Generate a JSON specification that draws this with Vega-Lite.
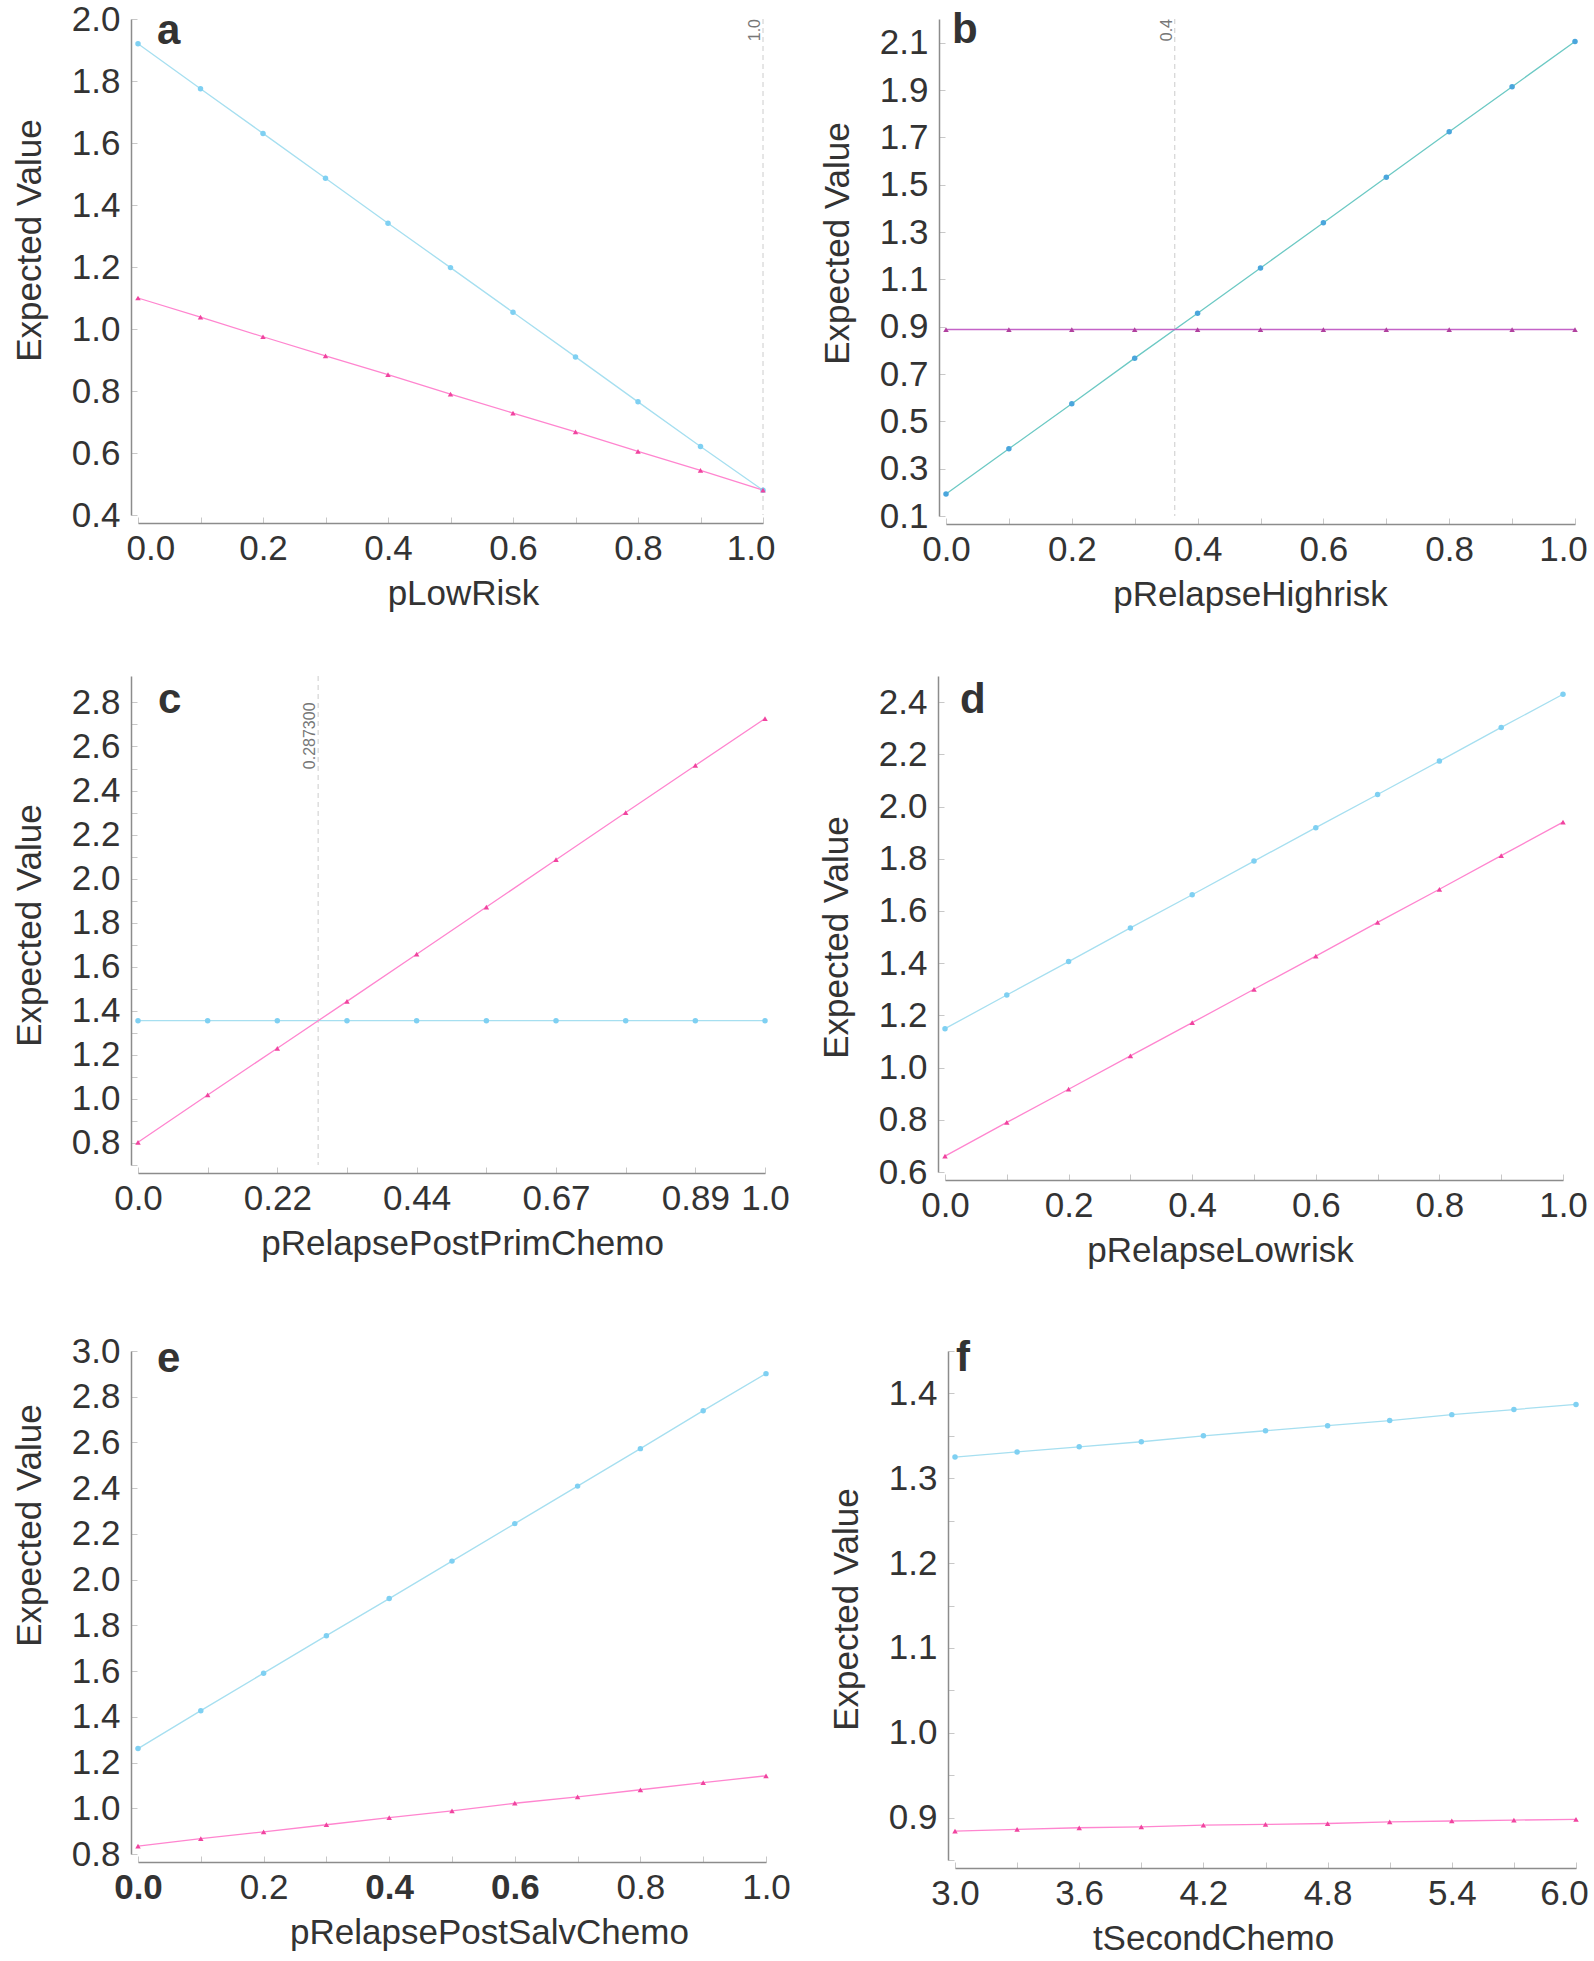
{
  "$schema": "https://vega.github.io/schema/vega-lite/v6.json",
  "background": "white",
  "padding": {"left": 12, "top": 2, "right": 0, "bottom": 0},
  "datasets": {
    "pa": [
      {"x": 0.0, "series": "Strategy 1", "ev": 1.92}, {"x": 0.1, "series": "Strategy 1", "ev": 1.775},
      {"x": 0.2, "series": "Strategy 1", "ev": 1.631}, {"x": 0.3, "series": "Strategy 1", "ev": 1.486},
      {"x": 0.4, "series": "Strategy 1", "ev": 1.341}, {"x": 0.5, "series": "Strategy 1", "ev": 1.198},
      {"x": 0.6, "series": "Strategy 1", "ev": 1.054}, {"x": 0.7, "series": "Strategy 1", "ev": 0.91},
      {"x": 0.8, "series": "Strategy 1", "ev": 0.765}, {"x": 0.9, "series": "Strategy 1", "ev": 0.621},
      {"x": 1.0, "series": "Strategy 1", "ev": 0.48},
      {"x": 0.0, "series": "Strategy 2", "ev": 1.1}, {"x": 0.1, "series": "Strategy 2", "ev": 1.038},
      {"x": 0.2, "series": "Strategy 2", "ev": 0.975}, {"x": 0.3, "series": "Strategy 2", "ev": 0.913},
      {"x": 0.4, "series": "Strategy 2", "ev": 0.853}, {"x": 0.5, "series": "Strategy 2", "ev": 0.79},
      {"x": 0.6, "series": "Strategy 2", "ev": 0.729}, {"x": 0.7, "series": "Strategy 2", "ev": 0.668},
      {"x": 0.8, "series": "Strategy 2", "ev": 0.605}, {"x": 0.9, "series": "Strategy 2", "ev": 0.544},
      {"x": 1.0, "series": "Strategy 2", "ev": 0.48}
    ],
    "pb": [
      {"x": 0.0, "series": "Strategy 1", "ev": 0.193}, {"x": 0.1, "series": "Strategy 1", "ev": 0.384},
      {"x": 0.2, "series": "Strategy 1", "ev": 0.574}, {"x": 0.3, "series": "Strategy 1", "ev": 0.767},
      {"x": 0.4, "series": "Strategy 1", "ev": 0.957}, {"x": 0.5, "series": "Strategy 1", "ev": 1.148},
      {"x": 0.6, "series": "Strategy 1", "ev": 1.339}, {"x": 0.7, "series": "Strategy 1", "ev": 1.531},
      {"x": 0.8, "series": "Strategy 1", "ev": 1.724}, {"x": 0.9, "series": "Strategy 1", "ev": 1.914},
      {"x": 1.0, "series": "Strategy 1", "ev": 2.105},
      {"x": 0.0, "series": "Strategy 2", "ev": 0.888}, {"x": 0.1, "series": "Strategy 2", "ev": 0.888},
      {"x": 0.2, "series": "Strategy 2", "ev": 0.888}, {"x": 0.3, "series": "Strategy 2", "ev": 0.888},
      {"x": 0.4, "series": "Strategy 2", "ev": 0.888}, {"x": 0.5, "series": "Strategy 2", "ev": 0.888},
      {"x": 0.6, "series": "Strategy 2", "ev": 0.888}, {"x": 0.7, "series": "Strategy 2", "ev": 0.888},
      {"x": 0.8, "series": "Strategy 2", "ev": 0.888}, {"x": 0.9, "series": "Strategy 2", "ev": 0.888},
      {"x": 1.0, "series": "Strategy 2", "ev": 0.888}
    ],
    "pc": [
      {"x": 0.0, "series": "Strategy 1", "ev": 1.355}, {"x": 0.1111, "series": "Strategy 1", "ev": 1.355},
      {"x": 0.2222, "series": "Strategy 1", "ev": 1.355}, {"x": 0.3333, "series": "Strategy 1", "ev": 1.355},
      {"x": 0.4444, "series": "Strategy 1", "ev": 1.355}, {"x": 0.5556, "series": "Strategy 1", "ev": 1.355},
      {"x": 0.6667, "series": "Strategy 1", "ev": 1.355}, {"x": 0.7778, "series": "Strategy 1", "ev": 1.355},
      {"x": 0.8889, "series": "Strategy 1", "ev": 1.355}, {"x": 1.0, "series": "Strategy 1", "ev": 1.355},
      {"x": 0.0, "series": "Strategy 2", "ev": 0.803}, {"x": 0.1111, "series": "Strategy 2", "ev": 1.018},
      {"x": 0.2222, "series": "Strategy 2", "ev": 1.23}, {"x": 0.3333, "series": "Strategy 2", "ev": 1.443},
      {"x": 0.4444, "series": "Strategy 2", "ev": 1.657}, {"x": 0.5556, "series": "Strategy 2", "ev": 1.871},
      {"x": 0.6667, "series": "Strategy 2", "ev": 2.086}, {"x": 0.7778, "series": "Strategy 2", "ev": 2.3},
      {"x": 0.8889, "series": "Strategy 2", "ev": 2.514}, {"x": 1.0, "series": "Strategy 2", "ev": 2.727}
    ],
    "pd": [
      {"x": 0.0, "series": "Strategy 1", "ev": 1.149}, {"x": 0.1, "series": "Strategy 1", "ev": 1.278},
      {"x": 0.2, "series": "Strategy 1", "ev": 1.406}, {"x": 0.3, "series": "Strategy 1", "ev": 1.535},
      {"x": 0.4, "series": "Strategy 1", "ev": 1.662}, {"x": 0.5, "series": "Strategy 1", "ev": 1.791},
      {"x": 0.6, "series": "Strategy 1", "ev": 1.919}, {"x": 0.7, "series": "Strategy 1", "ev": 2.046},
      {"x": 0.8, "series": "Strategy 1", "ev": 2.174}, {"x": 0.9, "series": "Strategy 1", "ev": 2.303},
      {"x": 1.0, "series": "Strategy 1", "ev": 2.43},
      {"x": 0.0, "series": "Strategy 2", "ev": 0.661}, {"x": 0.1, "series": "Strategy 2", "ev": 0.79},
      {"x": 0.2, "series": "Strategy 2", "ev": 0.917}, {"x": 0.3, "series": "Strategy 2", "ev": 1.045},
      {"x": 0.4, "series": "Strategy 2", "ev": 1.172}, {"x": 0.5, "series": "Strategy 2", "ev": 1.3},
      {"x": 0.6, "series": "Strategy 2", "ev": 1.427}, {"x": 0.7, "series": "Strategy 2", "ev": 1.556},
      {"x": 0.8, "series": "Strategy 2", "ev": 1.683}, {"x": 0.9, "series": "Strategy 2", "ev": 1.812},
      {"x": 1.0, "series": "Strategy 2", "ev": 1.94}
    ],
    "pe": [
      {"x": 0.0, "series": "Strategy 1", "ev": 1.261}, {"x": 0.1, "series": "Strategy 1", "ev": 1.427},
      {"x": 0.2, "series": "Strategy 1", "ev": 1.591}, {"x": 0.3, "series": "Strategy 1", "ev": 1.755},
      {"x": 0.4, "series": "Strategy 1", "ev": 1.917}, {"x": 0.5, "series": "Strategy 1", "ev": 2.081},
      {"x": 0.6, "series": "Strategy 1", "ev": 2.245}, {"x": 0.7, "series": "Strategy 1", "ev": 2.409},
      {"x": 0.8, "series": "Strategy 1", "ev": 2.573}, {"x": 0.9, "series": "Strategy 1", "ev": 2.739},
      {"x": 1.0, "series": "Strategy 1", "ev": 2.901},
      {"x": 0.0, "series": "Strategy 2", "ev": 0.834}, {"x": 0.1, "series": "Strategy 2", "ev": 0.867},
      {"x": 0.2, "series": "Strategy 2", "ev": 0.897}, {"x": 0.3, "series": "Strategy 2", "ev": 0.928},
      {"x": 0.4, "series": "Strategy 2", "ev": 0.959}, {"x": 0.5, "series": "Strategy 2", "ev": 0.989},
      {"x": 0.6, "series": "Strategy 2", "ev": 1.022}, {"x": 0.7, "series": "Strategy 2", "ev": 1.05},
      {"x": 0.8, "series": "Strategy 2", "ev": 1.081}, {"x": 0.9, "series": "Strategy 2", "ev": 1.112},
      {"x": 1.0, "series": "Strategy 2", "ev": 1.142}
    ],
    "pf": [
      {"x": 3.0, "series": "Strategy 1", "ev": 1.325}, {"x": 3.3, "series": "Strategy 1", "ev": 1.331},
      {"x": 3.6, "series": "Strategy 1", "ev": 1.337}, {"x": 3.9, "series": "Strategy 1", "ev": 1.343},
      {"x": 4.2, "series": "Strategy 1", "ev": 1.35}, {"x": 4.5, "series": "Strategy 1", "ev": 1.356},
      {"x": 4.8, "series": "Strategy 1", "ev": 1.362}, {"x": 5.1, "series": "Strategy 1", "ev": 1.368},
      {"x": 5.4, "series": "Strategy 1", "ev": 1.375}, {"x": 5.7, "series": "Strategy 1", "ev": 1.381},
      {"x": 6.0, "series": "Strategy 1", "ev": 1.387},
      {"x": 3.0, "series": "Strategy 2", "ev": 0.884}, {"x": 3.3, "series": "Strategy 2", "ev": 0.886},
      {"x": 3.6, "series": "Strategy 2", "ev": 0.888}, {"x": 3.9, "series": "Strategy 2", "ev": 0.889},
      {"x": 4.2, "series": "Strategy 2", "ev": 0.891}, {"x": 4.5, "series": "Strategy 2", "ev": 0.892},
      {"x": 4.8, "series": "Strategy 2", "ev": 0.893}, {"x": 5.1, "series": "Strategy 2", "ev": 0.895},
      {"x": 5.4, "series": "Strategy 2", "ev": 0.896}, {"x": 5.7, "series": "Strategy 2", "ev": 0.897},
      {"x": 6.0, "series": "Strategy 2", "ev": 0.898}
    ]
  },
  "vconcat": [
    {
      "hconcat": [
        {
          "width": 625, "height": 496,
          "title": {"text": "a", "anchor": "start", "frame": "group", "baseline": "alphabetic", "offset": -84, "dx": 19},
          "layer": [
            {"data": {"values": [{"x": 1.0, "label": "1.0"}]},
             "mark": {"type": "rule", "strokeDash": [5, 4], "color": "#cccccc", "strokeWidth": 1},
             "encoding": {"x": {"field": "x", "type": "quantitative", "title": "pLowRisk"}}},
            {"data": {"values": [{"x": 1.0, "label": "1.0"}]},
             "mark": {"type": "text", "angle": 270, "align": "right", "baseline": "bottom", "fontSize": 16, "color": "#777777"},
             "encoding": {"x": {"field": "x", "type": "quantitative", "title": "pLowRisk"}, "y": {"datum": 2.0}, "text": {"field": "label"}}},
            {"data": {"name": "pa"}, "mark": {"type": "line", "strokeWidth": 1.3},
             "encoding": {
               "x": {"field": "x", "type": "quantitative", "title": "pLowRisk",
                 "scale": {"domain": [0, 1], "nice": false, "zero": false},
                 "axis": {"values": [0, 0.1, 0.2, 0.3, 0.4, 0.5, 0.6, 0.7, 0.8, 0.9, 1.0],
                   "labelExpr": "round(datum.value*10)%2==0 ? format(datum.value,'.1f') : ''",
                   "labelFlush": true, "labelFlushOffset": 12, "titleX": 325}},
               "y": {"field": "ev", "type": "quantitative", "title": "Expected Value",
                 "scale": {"domain": [0.4, 2.0], "nice": false, "zero": false},
                 "axis": {"values": [0.4, 0.5, 0.6, 0.7, 0.8, 0.9, 1.0, 1.1, 1.2, 1.3, 1.4, 1.5, 1.6, 1.7, 1.8, 1.9, 2.0],
                   "labelExpr": "round(datum.value*10)%2==0 ? format(datum.value,'.1f') : ''", "titleY": 221}},
               "stroke": {"field": "series", "type": "nominal", "legend": null,
                 "scale": {"domain": ["Strategy 1", "Strategy 2"], "range": ["#a6dff0", "#ff85cf"]}}}},
            {"data": {"name": "pa"}, "mark": {"type": "point", "filled": true, "size": 30, "opacity": 1},
             "encoding": {
               "x": {"field": "x", "type": "quantitative", "title": "pLowRisk"},
               "y": {"field": "ev", "type": "quantitative", "title": "Expected Value"},
               "fill": {"field": "series", "type": "nominal", "legend": null,
                 "scale": {"domain": ["Strategy 1", "Strategy 2"], "range": ["#7fd0f2", "#f0449f"]}},
               "shape": {"field": "series", "type": "nominal", "legend": null,
                 "scale": {"domain": ["Strategy 1", "Strategy 2"], "range": ["circle", "triangle-up"]}}}}
          ]
        },
        {
          "width": 629, "height": 497,
          "title": {"text": "b", "anchor": "start", "frame": "group", "baseline": "alphabetic", "offset": -66, "dx": 6},
          "layer": [
            {"data": {"values": [{"x": 0.3637, "label": "0.4"}]},
             "mark": {"type": "rule", "strokeDash": [5, 4], "color": "#cccccc", "strokeWidth": 1},
             "encoding": {"x": {"field": "x", "type": "quantitative", "title": "pRelapseHighrisk"}}},
            {"data": {"values": [{"x": 0.3637, "label": "0.4"}]},
             "mark": {"type": "text", "angle": 270, "align": "right", "baseline": "bottom", "fontSize": 16, "color": "#777777"},
             "encoding": {"x": {"field": "x", "type": "quantitative", "title": "pRelapseHighrisk"}, "y": {"datum": 2.2}, "text": {"field": "label"}}},
            {"data": {"name": "pb"}, "mark": {"type": "line", "strokeWidth": 1.3},
             "encoding": {
               "x": {"field": "x", "type": "quantitative", "title": "pRelapseHighrisk",
                 "scale": {"domain": [0, 1], "nice": false, "zero": false},
                 "axis": {"values": [0, 0.1, 0.2, 0.3, 0.4, 0.5, 0.6, 0.7, 0.8, 0.9, 1.0],
                   "labelExpr": "round(datum.value*10)%2==0 ? format(datum.value,'.1f') : ''",
                   "labelOffset": {"condition": {"test": "datum.value > 0.99", "value": -12}, "value": 0},
                   "titleX": 304}},
               "y": {"field": "ev", "type": "quantitative", "title": "Expected Value",
                 "scale": {"domain": [0.1, 2.2], "nice": false, "zero": false},
                 "axis": {"values": [0.1, 0.2, 0.3, 0.4, 0.5, 0.6, 0.7, 0.8, 0.9, 1.0, 1.1, 1.2, 1.3, 1.4, 1.5, 1.6, 1.7, 1.8, 1.9, 2.0, 2.1, 2.2],
                   "labelExpr": "round(datum.value*10)%2==1 ? format(datum.value,'.1f') : ''", "titleY": 224}},
               "stroke": {"field": "series", "type": "nominal", "legend": null,
                 "scale": {"domain": ["Strategy 1", "Strategy 2"], "range": ["#6cc9c4", "#c463c8"]}}}},
            {"data": {"name": "pb"}, "mark": {"type": "point", "filled": true, "size": 30, "opacity": 1},
             "encoding": {
               "x": {"field": "x", "type": "quantitative", "title": "pRelapseHighrisk"},
               "y": {"field": "ev", "type": "quantitative", "title": "Expected Value"},
               "fill": {"field": "series", "type": "nominal", "legend": null,
                 "scale": {"domain": ["Strategy 1", "Strategy 2"], "range": ["#4aa6dc", "#b0409e"]}},
               "shape": {"field": "series", "type": "nominal", "legend": null,
                 "scale": {"domain": ["Strategy 1", "Strategy 2"], "range": ["circle", "triangle-up"]}}}}
          ]
        }
      ],
      "spacing": 45,
      "resolve": {"scale": {"stroke": "independent", "fill": "independent", "shape": "independent"}}
    },
    {
      "vconcat": [
        {
          "hconcat": [
            {
              "width": 627, "height": 489,
              "title": {"text": "c", "anchor": "start", "frame": "group", "baseline": "alphabetic", "offset": -79, "dx": 20},
              "layer": [
                {"data": {"values": [{"x": 0.2873, "label": "0.287300"}]},
                 "mark": {"type": "rule", "strokeDash": [5, 4], "color": "#cccccc", "strokeWidth": 1},
                 "encoding": {"x": {"field": "x", "type": "quantitative", "title": "pRelapsePostPrimChemo"}}},
                {"data": {"name": "pc"}, "mark": {"type": "line", "strokeWidth": 1.3},
                 "encoding": {
                   "x": {"field": "x", "type": "quantitative", "title": "pRelapsePostPrimChemo",
                     "scale": {"domain": [0, 1], "nice": false, "zero": false},
                     "axis": {"values": [0, 0.111111, 0.222222, 0.333333, 0.444444, 0.555556, 0.666667, 0.777778, 0.888889, 1.0],
                       "labelExpr": "datum.value > 0.99 ? '1.0' : (round(datum.value*9)%2==0 ? (datum.value < 0.01 ? '0.0' : format(datum.value,'.2f')) : '')",
                       "titleX": 324}},
                   "y": {"field": "ev", "type": "quantitative", "title": "Expected Value",
                     "scale": {"domain": [0.7, 2.92], "nice": false, "zero": false},
                     "axis": {"values": [0.7, 0.8, 0.9, 1.0, 1.1, 1.2, 1.3, 1.4, 1.5, 1.6, 1.7, 1.8, 1.9, 2.0, 2.1, 2.2, 2.3, 2.4, 2.5, 2.6, 2.7, 2.8],
                       "labelExpr": "round(datum.value*10)%2==0 ? format(datum.value,'.1f') : ''", "titleY": 249}},
                   "stroke": {"field": "series", "type": "nominal", "legend": null,
                     "scale": {"domain": ["Strategy 1", "Strategy 2"], "range": ["#a6dff0", "#ff85cf"]}}}},
                {"data": {"name": "pc"}, "mark": {"type": "point", "filled": true, "size": 30, "opacity": 1},
                 "encoding": {
                   "x": {"field": "x", "type": "quantitative", "title": "pRelapsePostPrimChemo",
                     "scale": {"domain": [0, 1], "nice": false, "zero": false},
                     "axis": {"values": [0, 0.111111, 0.222222, 0.333333, 0.444444, 0.555556, 0.666667, 0.777778, 0.888889, 1.0],
                       "labelExpr": "datum.value > 0.99 ? '1.0' : (round(datum.value*9)%2==0 ? (datum.value < 0.01 ? '0.0' : format(datum.value,'.2f')) : '')",
                       "titleX": 324}},
                   "y": {"field": "ev", "type": "quantitative", "title": "Expected Value",
                     "scale": {"domain": [0.7, 2.92], "nice": false, "zero": false},
                     "axis": {"values": [0.7, 0.8, 0.9, 1.0, 1.1, 1.2, 1.3, 1.4, 1.5, 1.6, 1.7, 1.8, 1.9, 2.0, 2.1, 2.2, 2.3, 2.4, 2.5, 2.6, 2.7, 2.8],
                       "labelExpr": "round(datum.value*10)%2==0 ? format(datum.value,'.1f') : ''", "titleY": 249}},
                   "fill": {"field": "series", "type": "nominal", "legend": null,
                     "scale": {"domain": ["Strategy 1", "Strategy 2"], "range": ["#7fd0f2", "#f0449f"]}},
                   "shape": {"field": "series", "type": "nominal", "legend": null,
                     "scale": {"domain": ["Strategy 1", "Strategy 2"], "range": ["circle", "triangle-up"]}}}},
                {"data": {"values": [{"x": 0.2873, "label": "0.287300"}]},
                 "mark": {"type": "text", "angle": 270, "align": "right", "baseline": "bottom", "fontSize": 16, "color": "#777777"},
                 "encoding": {
                   "x": {"field": "x", "type": "quantitative", "title": "pRelapsePostPrimChemo"},
                   "y": {"datum": 2.8, "type": "quantitative", "title": "Expected Value",
                     "scale": {"domain": [0.7, 2.92], "nice": false, "zero": false},
                     "axis": {"values": [0.7, 0.8, 0.9, 1.0, 1.1, 1.2, 1.3, 1.4, 1.5, 1.6, 1.7, 1.8, 1.9, 2.0, 2.1, 2.2, 2.3, 2.4, 2.5, 2.6, 2.7, 2.8],
                       "labelExpr": "round(datum.value*10)%2==0 ? format(datum.value,'.1f') : ''", "titleY": 249}},
                   "text": {"field": "label", "type": "nominal"}}}
              ]
            },
            {
              "width": 618, "height": 496,
              "title": {"text": "d", "anchor": "start", "frame": "group", "baseline": "alphabetic", "offset": -79, "dx": 15},
              "layer": [
                {"data": {"name": "pd"}, "mark": {"type": "line", "strokeWidth": 1.3},
                 "encoding": {
                   "x": {"field": "x", "type": "quantitative", "title": "pRelapseLowrisk",
                     "scale": {"domain": [0, 1], "nice": false, "zero": false},
                     "axis": {"values": [0, 0.1, 0.2, 0.3, 0.4, 0.5, 0.6, 0.7, 0.8, 0.9, 1.0],
                       "labelExpr": "round(datum.value*10)%2==0 ? format(datum.value,'.1f') : ''", "titleX": 275}},
                   "y": {"field": "ev", "type": "quantitative", "title": "Expected Value",
                     "scale": {"domain": [0.6, 2.5], "nice": false, "zero": false},
                     "axis": {"values": [0.6, 0.7, 0.8, 0.9, 1.0, 1.1, 1.2, 1.3, 1.4, 1.5, 1.6, 1.7, 1.8, 1.9, 2.0, 2.1, 2.2, 2.3, 2.4, 2.5],
                       "labelExpr": "round(datum.value*10)%2==0 && datum.value < 2.45 ? format(datum.value,'.1f') : ''", "titleY": 261}},
                   "stroke": {"field": "series", "type": "nominal", "legend": null,
                     "scale": {"domain": ["Strategy 1", "Strategy 2"], "range": ["#a6dff0", "#ff85cf"]}}}},
                {"data": {"name": "pd"}, "mark": {"type": "point", "filled": true, "size": 30, "opacity": 1},
                 "encoding": {
                   "x": {"field": "x", "type": "quantitative", "title": "pRelapseLowrisk"},
                   "y": {"field": "ev", "type": "quantitative", "title": "Expected Value"},
                   "fill": {"field": "series", "type": "nominal", "legend": null,
                     "scale": {"domain": ["Strategy 1", "Strategy 2"], "range": ["#7fd0f2", "#f0449f"]}},
                   "shape": {"field": "series", "type": "nominal", "legend": null,
                     "scale": {"domain": ["Strategy 1", "Strategy 2"], "range": ["circle", "triangle-up"]}}}}
              ]
            }
          ],
          "spacing": 29,
          "resolve": {"scale": {"stroke": "independent", "fill": "independent", "shape": "independent"}}
        },
        {
          "hconcat": [
            {
              "width": 628, "height": 503,
              "title": {"text": "e", "anchor": "start", "frame": "group", "baseline": "alphabetic", "offset": -80, "dx": 19},
              "layer": [
                {"data": {"name": "pe"}, "mark": {"type": "line", "strokeWidth": 1.3},
                 "encoding": {
                   "x": {"field": "x", "type": "quantitative", "title": "pRelapsePostSalvChemo",
                     "scale": {"domain": [0, 1], "nice": false, "zero": false},
                     "axis": {"values": [0, 0.1, 0.2, 0.3, 0.4, 0.5, 0.6, 0.7, 0.8, 0.9, 1.0],
                       "labelExpr": "round(datum.value*10)%2==0 ? format(datum.value,'.1f') : ''",
                       "labelFontWeight": {"condition": {"test": "abs(datum.value) < 0.01 || abs(datum.value - 0.4) < 0.01 || abs(datum.value - 0.6) < 0.01", "value": "bold"}, "value": "normal"},
                       "titleX": 351}},
                   "y": {"field": "ev", "type": "quantitative", "title": "Expected Value",
                     "scale": {"domain": [0.8, 3.0], "nice": false, "zero": false},
                     "axis": {"values": [0.8, 0.9, 1.0, 1.1, 1.2, 1.3, 1.4, 1.5, 1.6, 1.7, 1.8, 1.9, 2.0, 2.1, 2.2, 2.3, 2.4, 2.5, 2.6, 2.7, 2.8, 2.9, 3.0],
                       "labelExpr": "round(datum.value*10)%2==0 ? format(datum.value,'.1f') : ''", "titleY": 174}},
                   "stroke": {"field": "series", "type": "nominal", "legend": null,
                     "scale": {"domain": ["Strategy 1", "Strategy 2"], "range": ["#a6dff0", "#ff85cf"]}}}},
                {"data": {"name": "pe"}, "mark": {"type": "point", "filled": true, "size": 30, "opacity": 1},
                 "encoding": {
                   "x": {"field": "x", "type": "quantitative", "title": "pRelapsePostSalvChemo"},
                   "y": {"field": "ev", "type": "quantitative", "title": "Expected Value"},
                   "fill": {"field": "series", "type": "nominal", "legend": null,
                     "scale": {"domain": ["Strategy 1", "Strategy 2"], "range": ["#7fd0f2", "#f0449f"]}},
                   "shape": {"field": "series", "type": "nominal", "legend": null,
                     "scale": {"domain": ["Strategy 1", "Strategy 2"], "range": ["circle", "triangle-up"]}}}}
              ]
            },
            {
              "width": 621, "height": 509,
              "title": {"text": "f", "anchor": "start", "frame": "group", "baseline": "alphabetic", "offset": -79, "dx": 1},
              "layer": [
                {"data": {"name": "pf"}, "mark": {"type": "line", "strokeWidth": 1.3},
                 "encoding": {
                   "x": {"field": "x", "type": "quantitative", "title": "tSecondChemo",
                     "scale": {"domain": [3, 6], "nice": false, "zero": false},
                     "axis": {"values": [3.0, 3.3, 3.6, 3.9, 4.2, 4.5, 4.8, 5.1, 5.4, 5.7, 6.0],
                       "labelExpr": "round((datum.value-3)*10)%6==0 ? format(datum.value,'.1f') : ''",
                       "labelOffset": {"condition": {"test": "datum.value > 5.99", "value": -12}, "value": 0},
                       "titleX": 258}},
                   "y": {"field": "ev", "type": "quantitative", "title": "Expected Value",
                     "scale": {"domain": [0.85, 1.45], "nice": false, "zero": false},
                     "axis": {"values": [0.85, 0.9, 0.95, 1.0, 1.05, 1.1, 1.15, 1.2, 1.25, 1.3, 1.35, 1.4, 1.45],
                       "labelExpr": "round(datum.value*100)%10==0 ? format(datum.value,'.1f') : ''", "titleY": 258}},
                   "stroke": {"field": "series", "type": "nominal", "legend": null,
                     "scale": {"domain": ["Strategy 1", "Strategy 2"], "range": ["#a6dff0", "#ff85cf"]}}}},
                {"data": {"name": "pf"}, "mark": {"type": "point", "filled": true, "size": 30, "opacity": 1},
                 "encoding": {
                   "x": {"field": "x", "type": "quantitative", "title": "tSecondChemo"},
                   "y": {"field": "ev", "type": "quantitative", "title": "Expected Value"},
                   "fill": {"field": "series", "type": "nominal", "legend": null,
                     "scale": {"domain": ["Strategy 1", "Strategy 2"], "range": ["#7fd0f2", "#f0449f"]}},
                   "shape": {"field": "series", "type": "nominal", "legend": null,
                     "scale": {"domain": ["Strategy 1", "Strategy 2"], "range": ["circle", "triangle-up"]}}}}
              ]
            }
          ],
          "spacing": 38,
          "resolve": {"scale": {"stroke": "independent", "fill": "independent", "shape": "independent"}}
        }
      ],
      "spacing": 66,
      "resolve": {"scale": {"stroke": "independent", "fill": "independent", "shape": "independent"}}
    }
  ],
  "spacing": 63,
  "resolve": {"scale": {"stroke": "independent", "fill": "independent", "shape": "independent"}},
  "config": {
    "font": "Liberation Sans",
    "view": {"stroke": null},
    "axis": {
      "grid": false,
      "labelFont": "Liberation Sans", "labelFontSize": 35, "labelColor": "#333333",
      "titleFont": "Liberation Sans", "titleFontSize": 35, "titleColor": "#333333", "titleFontWeight": "normal",
      "domainColor": "#8c8c8c", "domainWidth": 1.5,
      "tickColor": "#c8c8c8", "tickSize": -6, "tickWidth": 1,
      "labelOverlap": false
    },
    "axisX": {"offset": 8, "labelPadding": 14, "titlePadding": 10, "labelFlush": false},
    "axisY": {"offset": 7, "labelPadding": 17, "titlePadding": 24},
    "title": {"fontSize": 42, "fontWeight": "bold", "color": "#333333", "font": "Liberation Sans"}
  }
}
